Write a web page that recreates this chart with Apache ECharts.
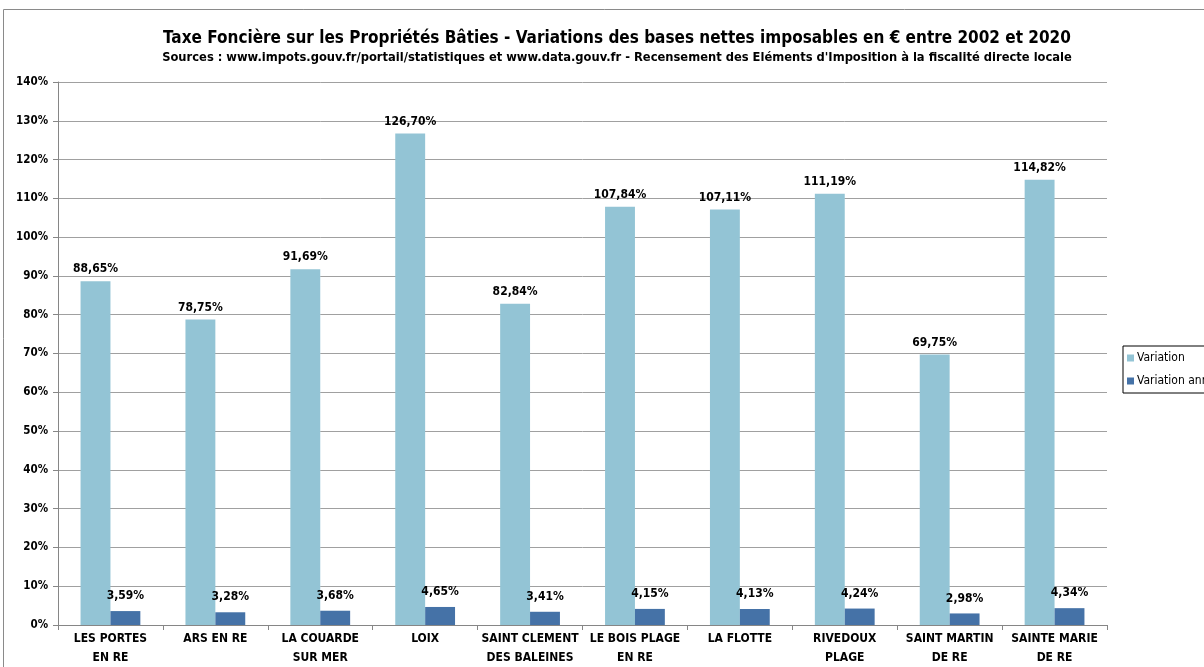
<!DOCTYPE html>
<html>
<head>
<meta charset="utf-8">
<script src="https://cdn.jsdelivr.net/npm/echarts@6/dist/echarts.min.js"></script>
<style>
  html, body { margin: 0; padding: 0; background: #fff; }
  #chart { width: 1204px; height: 667px; }
</style>
</head>
<body>
<div id="chart"></div>
<script>
const communes = [
  'LES PORTES\nEN RE', 'ARS EN RE', 'LA COUARDE\nSUR MER', 'LOIX', 'SAINT CLEMENT\nDES BALEINES',
  'LE BOIS PLAGE\nEN RE', 'LA FLOTTE', 'RIVEDOUX\nPLAGE', 'SAINT MARTIN\nDE RE', 'SAINTE MARIE\nDE RE'
]
const variation = [88.65, 78.75, 91.69, 126.70, 82.84, 107.84, 107.11, 111.19, 69.75, 114.82]
const variationAnnuelle = [3.59, 3.28, 3.68, 4.65, 3.41, 4.15, 4.13, 4.24, 2.98, 4.34]
const yTicks = [0, 10, 20, 30, 40, 50, 60, 70, 80, 90, 100, 110, 120, 130, 140]

const font = "'Liberation Sans Narrow', 'DejaVu Sans Condensed', 'Open Sans', sans-serif"
const fmt = v => v.toFixed(2).replace('.', ',') + '%'

const chart = echarts.init(document.getElementById('chart'), null, { renderer: 'canvas' })

chart.setOption({
  backgroundColor: '#fff',
  animation: false,
  textStyle: { fontFamily: font },
  graphic: [{
    type: 'rect',
    shape: { x: 3.5, y: 9.5, width: 1300, height: 700 },
    style: { fill: 'none', stroke: '#8a8a8a', lineWidth: 1 },
    silent: true
  }],
  title: {
    text: 'Taxe Foncière sur les Propriétés Bâties - Variations des bases nettes imposables en € entre 2002 et 2020',
    subtext: 'Sources : www.impots.gouv.fr/portail/statistiques et www.data.gouv.fr - Recensement des Eléments d\'Imposition à la fiscalité directe locale',
    left: 612,
    textAlign: 'center',
    top: 25,
    itemGap: 4,
    textStyle: { fontFamily: font, fontSize: 17, fontWeight: 'bold', color: '#000' },
    subtextStyle: { fontFamily: font, fontSize: 12.8, fontWeight: 'bold', color: '#000' }
  },
  legend: {
    orient: 'vertical',
    left: 1123,
    top: 346,
    itemWidth: 7,
    itemHeight: 7,
    itemGap: 11,
    padding: [6, 6, 6, 4],
    borderColor: '#000',
    borderWidth: 1,
    icon: 'rect',
    textStyle: { fontFamily: font, fontSize: 12, color: '#000', padding: [0, 0, 0, -2] },
    data: ['Variation', 'Variation annuelle']
  },
  grid: { left: 58, right: 97, top: 82, bottom: 39, containLabel: false },
  xAxis: {
    type: 'category',
    data: communes,
    axisLine: { lineStyle: { color: '#868686' } },
    axisTick: { show: true, length: 5, lineStyle: { color: '#868686' } },
    axisLabel: {
      fontFamily: font, fontSize: 12, fontWeight: 'bold', color: '#000',
      lineHeight: 19, margin: 4, interval: 0
    }
  },
  yAxis: {
    type: 'value',
    min: 0,
    max: 140,
    interval: 10,
    axisLine: { show: true, lineStyle: { color: '#868686' } },
    axisTick: { show: true, length: 5, lineStyle: { color: '#868686' } },
    splitLine: { lineStyle: { color: '#a0a0a0', width: 1 } },
    axisLabel: {
      fontFamily: font, fontSize: 11.5, fontWeight: 'bold', color: '#000', margin: 10,
      formatter: v => yTicks.includes(v) ? v + '%' : ''
    }
  },
  series: [
    {
      name: 'Variation',
      type: 'bar',
      data: variation,
      barGap: '0%',
      barCategoryGap: '43%',
      itemStyle: { color: '#93c4d5' },
      label: {
        show: true, position: 'top', distance: 6,
        fontFamily: font, fontSize: 12, fontWeight: 'bold', color: '#000',
        formatter: p => fmt(p.value)
      }
    },
    {
      name: 'Variation annuelle',
      type: 'bar',
      data: variationAnnuelle,
      itemStyle: { color: '#4572a7' },
      label: {
        show: true, position: 'top', distance: 9,
        fontFamily: font, fontSize: 12, fontWeight: 'bold', color: '#000',
        formatter: p => fmt(p.value)
      }
    }
  ]
})
</script>
</body>
</html>
